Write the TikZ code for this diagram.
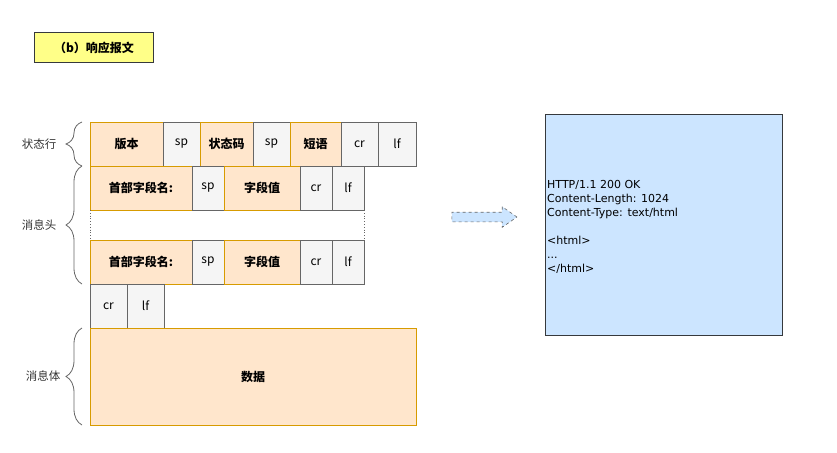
\documentclass[tikz,border=0pt]{standalone}
\usepackage{fontspec}
\setmainfont{Noto Sans CJK SC}
\newfontfamily\resfont{DejaVu Sans}
\usetikzlibrary{positioning,calc,decorations.pathreplacing,shapes.arrows}

\definecolor{hdrfill}{HTML}{FFE6CC}
\definecolor{hdrline}{HTML}{D79B00}
\definecolor{sepfill}{HTML}{F5F5F5}
\definecolor{sepline}{HTML}{666666}
\definecolor{resfill}{HTML}{CCE5FF}
\definecolor{resline}{HTML}{36393D}
\definecolor{ttlfill}{HTML}{FFFF88}

\tikzset{
  cell/.style={draw, line width=1pt, minimum height=44pt, inner sep=0pt, outer sep=0pt,
    font=\fontsize{12}{14}\selectfont},
  hdr/.style={cell, fill=hdrfill, draw=hdrline, font=\fontsize{12}{14}\selectfont\bfseries},
  sep/.style={cell, fill=sepfill, draw=sepline},
  brc/.style={draw=sepline, line width=0.8pt,
    decorate, decoration={brace, amplitude=16pt}},
  side/.style={left=6pt, font=\fontsize{11.5}{13}\selectfont, text=black!80}
}

\begin{document}
\begin{tikzpicture}[x=1pt,y=-1pt]
  \useasboundingbox (0,0) rectangle (837,452);

  % title
  \node[draw=resline, fill=ttlfill, line width=1pt, minimum width=119pt, minimum height=30pt,
    inner sep=0pt, anchor=north west, font=\fontsize{12}{14}\selectfont\bfseries]
    (ttl) at (34,32) {（b）响应报文};

  % status line
  \node[hdr, minimum width=73pt, anchor=north west] (ver) at (90,122) {版本};
  \node[sep, minimum width=37pt, right=0pt of ver] (sp1) {sp};
  \node[hdr, minimum width=53pt, right=0pt of sp1] (code) {状态码};
  \node[sep, minimum width=37pt, right=0pt of code] (sp2) {sp};
  \node[hdr, minimum width=51pt, right=0pt of sp2] (phr) {短语};
  \node[sep, minimum width=37pt, right=0pt of phr] (cr1) {cr};
  \node[sep, minimum width=38pt, right=0pt of cr1] (lf1) {lf};

  % header lines
  \node[hdr, minimum width=102pt, anchor=north west] (key1) at (ver.south west) {首部字段名:};
  \node[sep, minimum width=32pt, right=0pt of key1] (sp3) {sp};
  \node[hdr, minimum width=76pt, right=0pt of sp3] (val1) {字段值};
  \node[sep, minimum width=32pt, right=0pt of val1] (cr2) {cr};
  \node[sep, minimum width=32pt, right=0pt of cr2] (lf2) {lf};

  \node[hdr, minimum width=102pt, anchor=north west] (key2) at ($(key1.south west)+(0,30)$) {首部字段名:};
  \node[sep, minimum width=32pt, right=0pt of key2] (sp4) {sp};
  \node[hdr, minimum width=76pt, right=0pt of sp4] (val2) {字段值};
  \node[sep, minimum width=32pt, right=0pt of val2] (cr3) {cr};
  \node[sep, minimum width=32pt, right=0pt of cr3] (lf3) {lf};

  \draw[sepline, dotted, line width=0.8pt] (key1.south west) -- (key2.north west);
  \draw[sepline, dotted, line width=0.8pt] (lf2.south east) -- (lf3.north east);

  % empty line
  \node[sep, minimum width=37pt, anchor=north west] (cr4) at (key2.south west) {cr};
  \node[sep, minimum width=37pt, right=0pt of cr4] (lf4) {lf};

  % body
  \node[hdr, minimum width=326pt, minimum height=97pt, anchor=north west] (body) at (cr4.south west) {数据};

  % braces
  \draw[brc] ($(ver.south west)+(-8,0)$) -- ($(ver.north west)+(-8,0)$)
    node[midway, side, xshift=-16pt] (lstat) {状态行};
  \draw[brc] ($(key2.south west)+(-8,0)$) -- ($(key1.north west)+(-8,0)$)
    node[midway, side, xshift=-16pt] (lhead) {消息头};
  \draw[brc] ($(body.south west)+(-8,0)$) -- ($(body.north west)+(-8,0)$)
    node[midway, side, xshift=-12pt] (lbody) {消息体};

  % arrow
  \node[single arrow, draw=sepline, dashed, fill=resfill, line width=0.6pt,
    minimum height=65pt, inner sep=4.5pt, single arrow head extend=5.5pt,
    single arrow tip angle=70] (arr) at (481,217) {};

  % response
  \node[draw=resline, fill=resfill, line width=1pt, minimum width=237pt, minimum height=221pt,
    inner sep=0pt, anchor=north west] (res) at (545,114) {};
  \node[anchor=west, align=left, inner sep=0pt, font=\resfont\fontsize{11}{14}\selectfont]
    (msg) at ($(res.west)+(2,2)$)
    {HTTP/1.1 200 OK\\Content-Length: 1024\\Content-Type: text/html\\[14pt]%
     <html>\\...\\</html>};
\end{tikzpicture}
\end{document}
